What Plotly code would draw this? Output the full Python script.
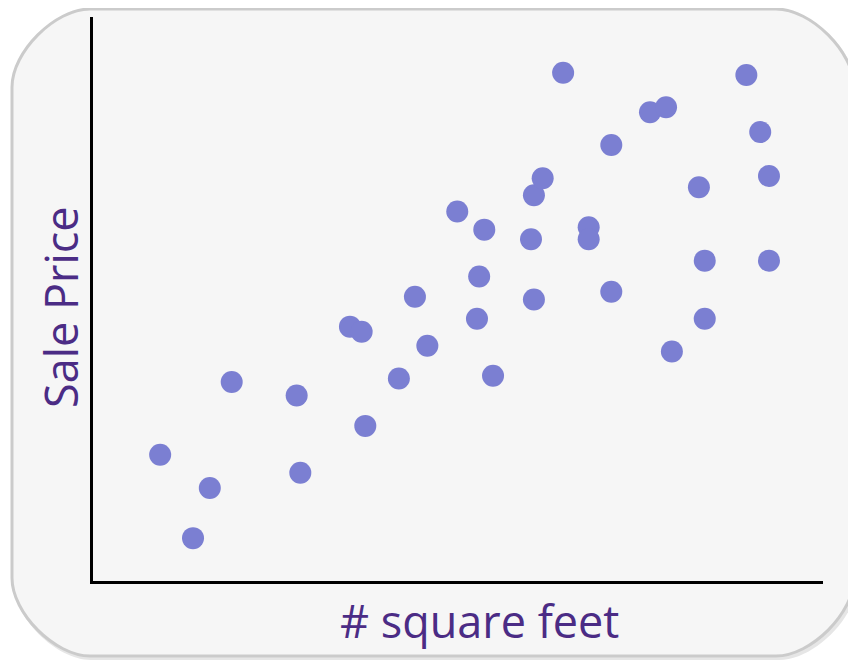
import plotly.graph_objects as go

# Data (arbitrary units)
sqft = [9.2, 13.7, 16.0, 19.0, 27.9, 28.4, 35.2, 36.8, 37.3, 41.9, 44.1, 45.8,
        49.9, 52.6, 52.9, 53.6, 54.8, 60.0, 60.4, 60.4, 61.6, 64.4, 67.9, 67.9,
        71.0, 71.0, 76.3, 78.5, 79.3, 83.0, 83.8, 83.8, 89.5, 91.4, 92.6, 92.6]
price = [22.4, 7.6, 16.5, 35.3, 32.9, 19.2, 45.1, 44.2, 27.5, 35.9, 50.4, 41.7,
         65.5, 46.5, 54.0, 62.3, 36.4, 60.6, 68.4, 49.9, 71.4, 90.1, 62.7, 60.6,
         77.3, 51.3, 83.1, 84.0, 40.7, 69.8, 56.8, 46.5, 89.7, 79.6, 71.8, 56.8]
x_label = "# square feet"
y_label = "Sale Price"

OFF = 8  # page body margin
W, H = 856 - OFF, 661 - OFF
L, R, T, B = 93 - OFF, 823 - OFF, 17 - OFF, 581 - OFF
pw, ph = R - L, B - T

def px(x):
    return (x - OFF - L) / pw

def py(y):
    return (B - (y - OFF)) / ph

def rounded_rect(x0, y0, x1, y1, r):
    k = 0.45 * r
    pts = [
        f"M {px(x0 + r)},{py(y0)}",
        f"L {px(x1 - r)},{py(y0)}",
        f"C {px(x1 - r + k)},{py(y0)} {px(x1)},{py(y0 + r - k)} {px(x1)},{py(y0 + r)}",
        f"L {px(x1)},{py(y1 - r)}",
        f"C {px(x1)},{py(y1 - r + k)} {px(x1 - r + k)},{py(y1)} {px(x1 - r)},{py(y1)}",
        f"L {px(x0 + r)},{py(y1)}",
        f"C {px(x0 + r - k)},{py(y1)} {px(x0)},{py(y1 - r + k)} {px(x0)},{py(y1 - r)}",
        f"L {px(x0)},{py(y0 + r)}",
        f"C {px(x0)},{py(y0 + r - k)} {px(x0 + r - k)},{py(y0)} {px(x0 + r)},{py(y0)}",
        "Z",
    ]
    return " ".join(pts)

fig = go.Figure()
fig.add_trace(go.Scatter(
    x=sqft, y=price, mode="markers",
    marker=dict(size=22, color="#7b7fd2", line=dict(width=0)),
    hoverinfo="skip", showlegend=False,
))

shapes = [
    dict(type="path", xref="paper", yref="paper", layer="below",
         path=rounded_rect(13, 11, 857, 660, 78),
         fillcolor="#e6e6e6", line=dict(width=0)),
    dict(type="path", xref="paper", yref="paper", layer="below",
         path=rounded_rect(12, 9, 854, 656, 78),
         fillcolor="#f6f6f6", line=dict(color="#cbcbcb", width=3)),
]

fig.update_layout(
    width=W, height=H,
    margin=dict(l=L, r=W - R, t=T, b=H - B, pad=0),
    paper_bgcolor="white",
    plot_bgcolor="rgba(0,0,0,0)",
    shapes=shapes,
    xaxis=dict(range=[0, 100], showgrid=False, zeroline=False, showticklabels=False,
               ticks="", showline=True, linecolor="black", linewidth=3, fixedrange=True),
    yaxis=dict(range=[0, 100], showgrid=False, zeroline=False, showticklabels=False,
               ticks="", showline=True, linecolor="black", linewidth=3, fixedrange=True),
    annotations=[
        dict(text=x_label, xref="paper", yref="paper", x=px(479), y=py(620),
             xanchor="center", yanchor="middle", showarrow=False,
             font=dict(family="Open Sans", size=45, color="#4b2c85")),
        dict(text=y_label, xref="paper", yref="paper", x=px(60), y=py(307),
             xanchor="center", yanchor="middle", showarrow=False, textangle=-90,
             font=dict(family="Open Sans", size=45, color="#4b2c85")),
    ],
)

fig.write_html("out.html")
